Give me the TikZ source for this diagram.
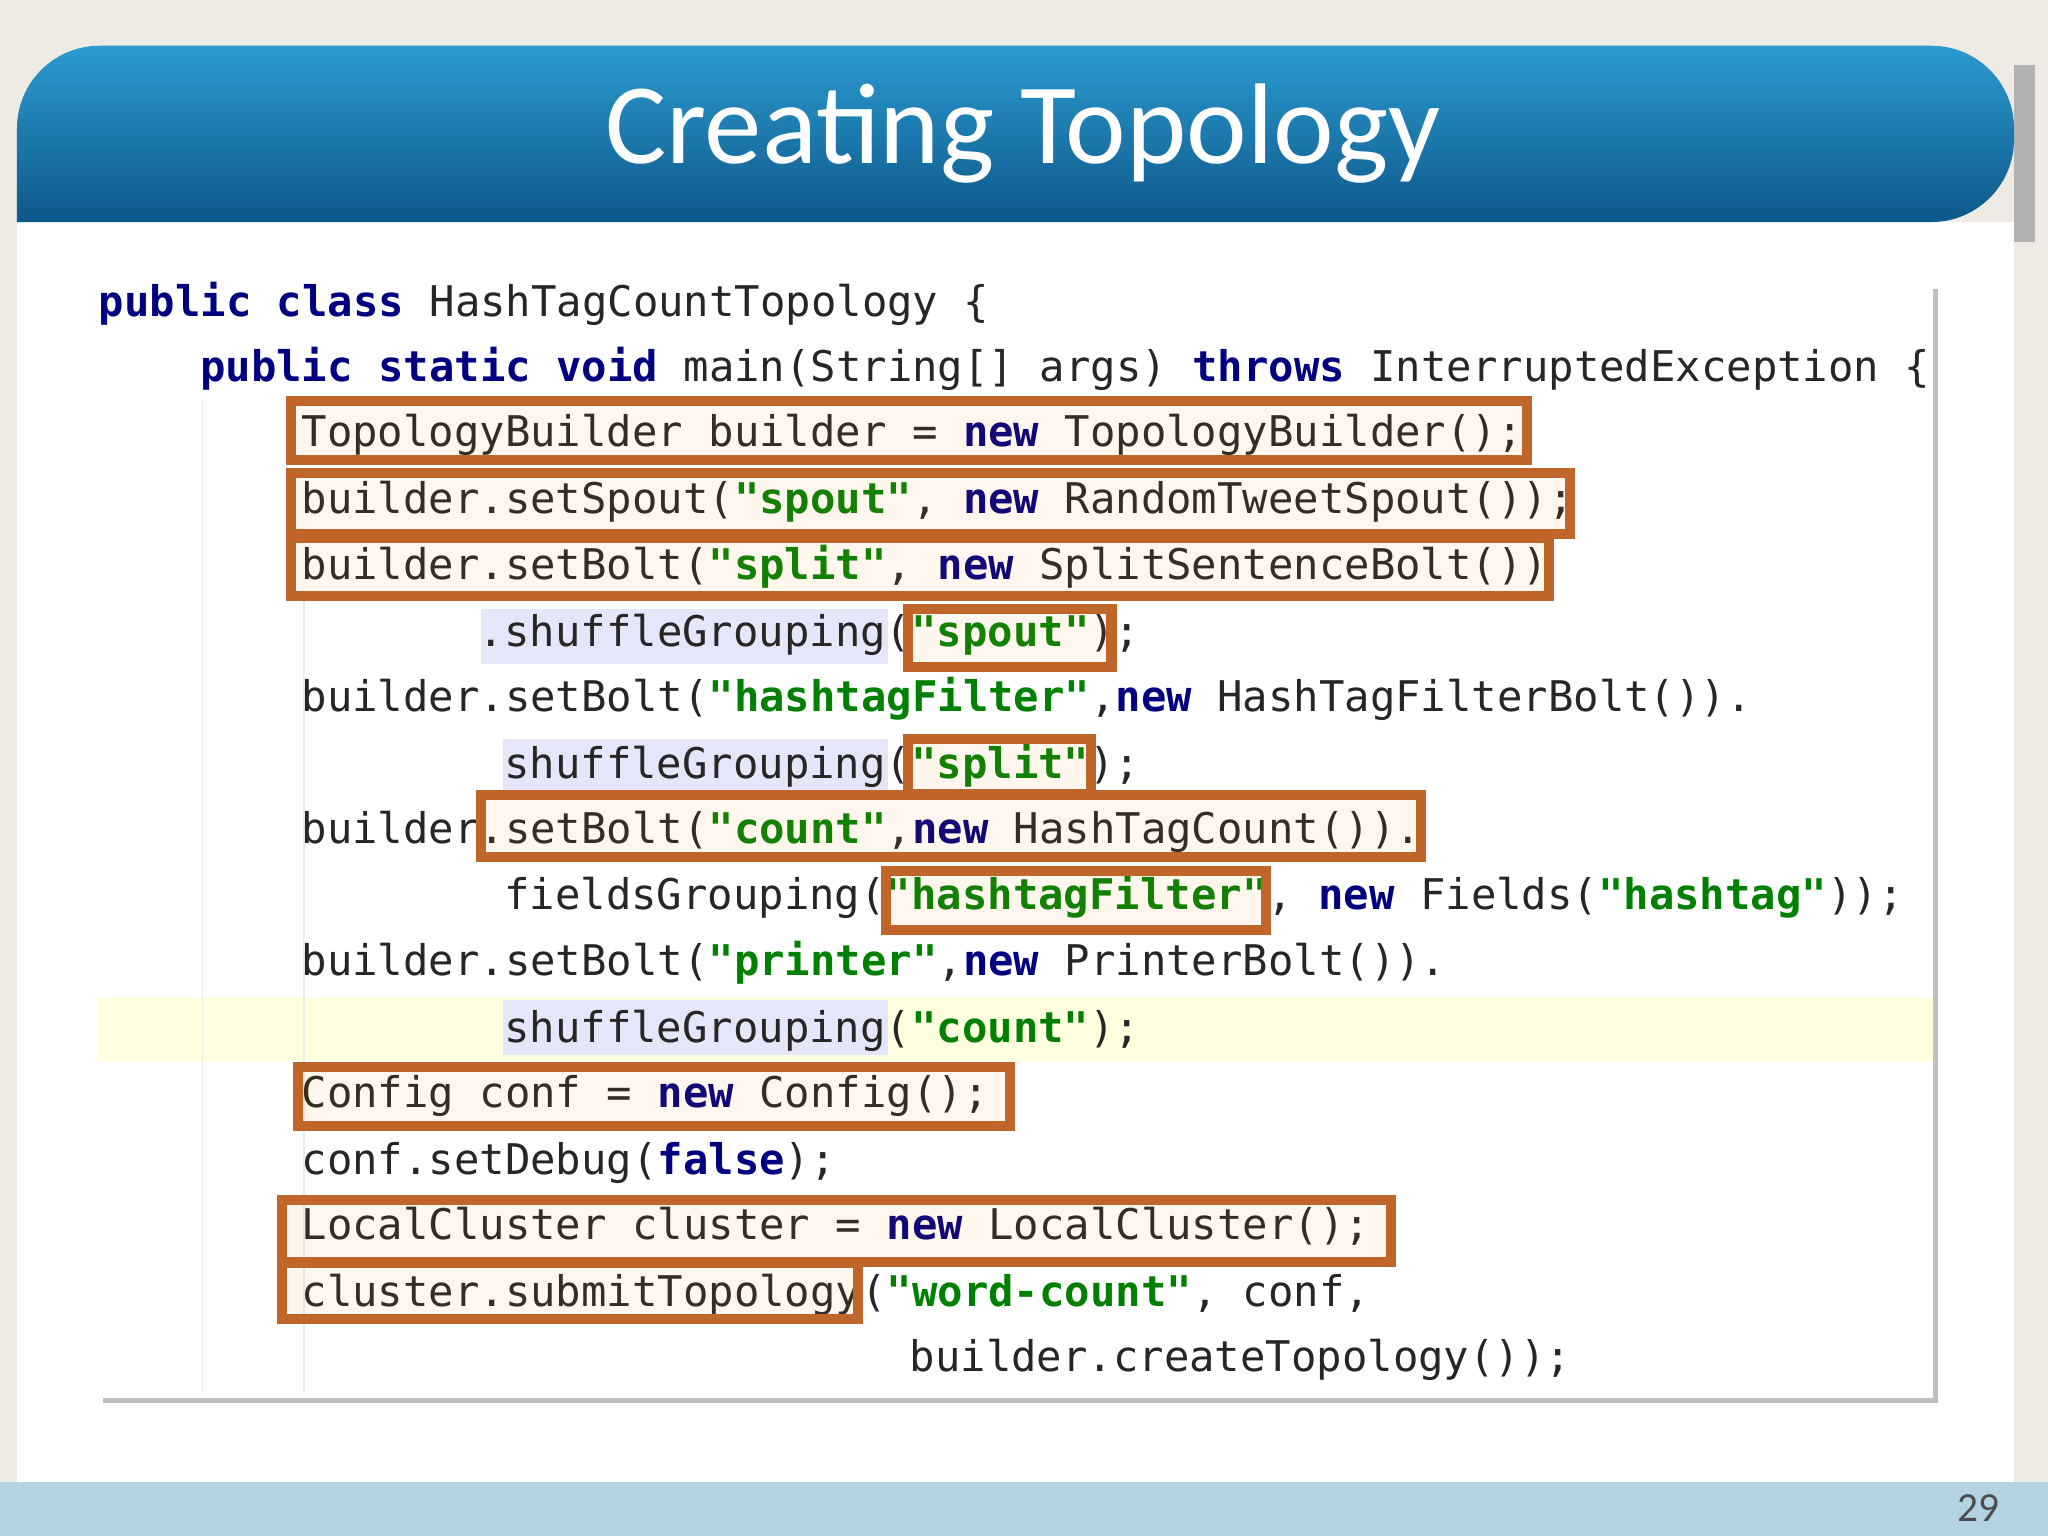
\documentclass[tikz,border=0pt]{standalone}
\usepackage{fontspec}
\setmainfont{Carlito}
\setmonofont{DejaVu Sans Mono}
\definecolor{kwc}{HTML}{000080}
\definecolor{stc}{HTML}{008000}
\definecolor{boxc}{HTML}{C0662A}
\definecolor{bgc}{HTML}{EEEBE4}
\definecolor{footc}{HTML}{B4D3E0}
\definecolor{yelc}{HTML}{FFFFE0}
\definecolor{lavc}{HTML}{E6E6FA}
\definecolor{htop}{RGB}{43,155,208}
\definecolor{hbot}{RGB}{14,88,138}
\newcommand{\kw}[1]{\textbf{\textcolor{kwc}{#1}}}
\newcommand{\st}[1]{\textbf{\textcolor{stc}{#1}}}
\begin{document}
\begin{tikzpicture}[x=0.01cm,y=-0.01cm,
  code/.style={anchor=base west,inner sep=0pt,font=\ttfamily\fontsize{9.2pt}{10pt}\selectfont,text=black!85},
  hbox/.style={draw=boxc,line width=2.2pt,fill=orange,fill opacity=0.07}]
\useasboundingbox (0,0) rectangle (1568,1176);
\fill[bgc] (0,0) rectangle (1568,1176);
\fill[gray!60] (1542,50) rectangle (1558,185);
\fill[white] (13,170) rectangle (1542,1135);
\fill[footc] (0,1135) rectangle (1568,1176);
\node[font=\small,text=black!70] (pg) at (1515,1155) {29};
\shade[top color=htop,bottom color=hbot,rounded corners=18] (13,170) -- (13,35) -- (1542,35) -- (1542,170) [sharp corners] -- cycle;
\node[text=white,font=\fontsize{25pt}{30pt}\selectfont] (title) at (783,102) {Creating Topology};
\fill[black!25] (79,221) rectangle (1484,1074);
\fill[white] (75,217) rectangle (1480,1070);
\fill[yelc] (75,763) rectangle (1480,812);
\draw[black!8] (155,305) -- (155,1065) (233,460) -- (233,1065);
\foreach \yy in {466,566,766}{\fill[lavc] (385,\yy) rectangle (680,\yy+42);}
\fill[lavc] (368,466) rectangle (385,508);
\def\cx#1{75+19.4*#1}
\node[code] (l1) at (\cx{0},242) {\kw{public} \kw{class} HashTagCountTopology \{};
\node[code] (l2) at (\cx{4},292) {\kw{public} \kw{static} \kw{void} main(String[] args) \kw{throws} InterruptedException \{};
\node[code] (l3) at (\cx{8},342) {TopologyBuilder builder = \kw{new} TopologyBuilder();};
\node[code] (l4) at (\cx{8},393) {builder.setSpout(\st{"spout"}, \kw{new} RandomTweetSpout());};
\node[code] (l5) at (\cx{8},444) {builder.setBolt(\st{"split"}, \kw{new} SplitSentenceBolt())};
\node[code] (l6) at (\cx{15},495) {.shuffleGrouping(\st{"spout"});};
\node[code] (l7) at (\cx{8},545) {builder.setBolt(\st{"hashtagFilter"},\kw{new} HashTagFilterBolt()).};
\node[code] (l8) at (\cx{16},596) {shuffleGrouping(\st{"split"});};
\node[code] (l9) at (\cx{8},646) {builder.setBolt(\st{"count"},\kw{new} HashTagCount()).};
\node[code] (l10) at (\cx{16},696) {fieldsGrouping(\st{"hashtagFilter"}, \kw{new} Fields(\st{"hashtag"}));};
\node[code] (l11) at (\cx{8},747) {builder.setBolt(\st{"printer"},\kw{new} PrinterBolt()).};
\node[code] (l12) at (\cx{16},798) {shuffleGrouping(\st{"count"});};
\node[code] (l13) at (\cx{8},848) {Config conf = \kw{new} Config();};
\node[code] (l14) at (\cx{8},899) {conf.setDebug(\kw{false});};
\node[code] (l15) at (\cx{8},949) {LocalCluster cluster = \kw{new} LocalCluster();};
\node[code] (l16) at (\cx{8},1000) {cluster.submitTopology(\st{"word-count"}, conf,};
\node[code] (l17) at (\cx{32},1050) {builder.createTopology());};
\draw[hbox] (223,307) rectangle (1169,352);
\draw[hbox] (223,362) rectangle (1202,409);
\draw[hbox] (223,412) rectangle (1186,456);
\draw[hbox] (695,466) rectangle (851,511);
\draw[hbox] (695,566) rectangle (835,608);
\draw[hbox] (368,609) rectangle (1088,656);
\draw[hbox] (678,667) rectangle (969,712);
\draw[hbox] (228,817) rectangle (773,862);
\draw[hbox] (216,919) rectangle (1065,966);
\draw[hbox] (216,967) rectangle (657,1010);
\end{tikzpicture}
\end{document}
